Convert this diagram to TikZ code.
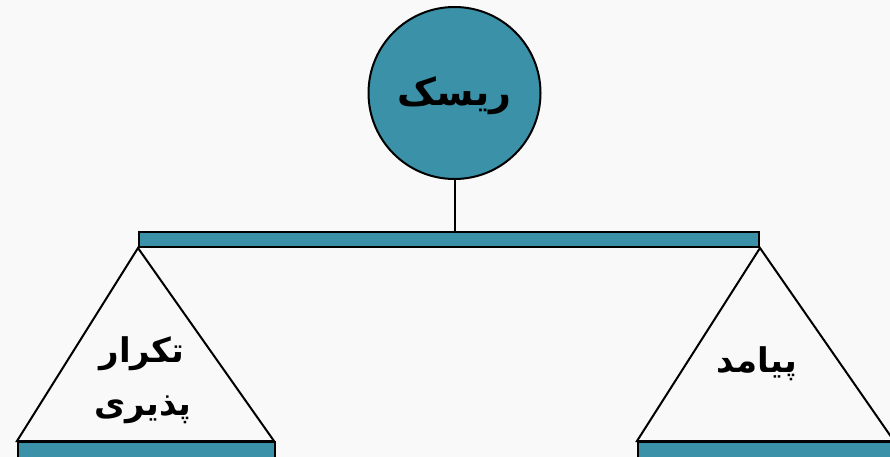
\documentclass[tikz,border=0pt]{standalone}
\usepackage{fontspec}
\newfontfamily\arabicfont[Script=Arabic]{DejaVu Sans}
\TeXXeTstate=1
\definecolor{riskteal}{HTML}{3A91A8}
\definecolor{bgcol}{HTML}{F9F9F9}
\tikzset{
  tealpart/.style={draw=black, fill=riskteal, line width=2pt},
  pan/.style={draw=black, line width=2pt, line join=miter},
  farsi/.style={font=\arabicfont\bfseries\fontsize{34}{40}\selectfont, align=center, inner sep=0pt},
}
\begin{document}
\begin{tikzpicture}[x=1pt,y=-1pt]
\useasboundingbox (0,0) rectangle (890,457);
\clip (0,0) rectangle (890,457);
\fill[bgcol] (0,0) rectangle (890,457);
% central circle
\node[tealpart, circle, minimum size=172pt, inner sep=0pt] (risk) at (454.5,93) {};
\node[farsi, font=\arabicfont\bfseries\fontsize{38}{44}\selectfont] (risklabel) at (454.5,96) {\beginR ریسک\endR};
% beam
\node[tealpart, rectangle, minimum width=620pt, minimum height=15pt, inner sep=0pt, anchor=north west] (beam) at (138,231) {};
\draw[line width=2pt] (risk.south) -- (beam.north -| risk.south);
% pans
\coordinate (lapex) at (beam.south west);
\coordinate (rapex) at (beam.south east);
\coordinate (lbl) at (17,441);
\coordinate (lbr) at (274,441);
\coordinate (rbl) at (637,441);
\coordinate (rbr) at (894,441);
\draw[pan] (lapex) -- (lbl) -- (lbr) -- cycle;
\draw[pan] (rapex) -- (rbl) -- (rbr) -- cycle;
% bottom bars
\node[tealpart, rectangle, minimum width=257pt, minimum height=20pt, inner sep=0pt, anchor=north west] (lbase) at (lbl) {};
\node[tealpart, rectangle, minimum width=257pt, minimum height=20pt, inner sep=0pt, anchor=north west] (rbase) at (rbl) {};
% labels
\node[farsi] (freq1) at (142,354) {\beginR تکرار\endR};
\node[farsi] (freq2) at (143,410) {\beginR پذیری\endR};
\node[farsi] (cons) at (757,364) {\beginR پیامد\endR};
\end{tikzpicture}
\end{document}
